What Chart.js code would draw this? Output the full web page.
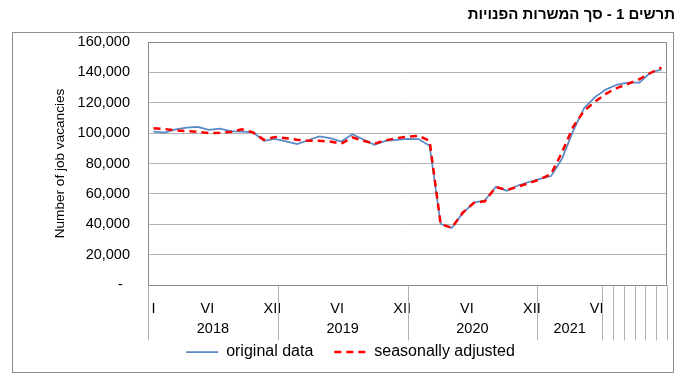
<!DOCTYPE html>
<html>
<head>
<meta charset="utf-8">
<title>Job vacancies</title>
<script src="https://cdn.jsdelivr.net/npm/chart.js@4.4.0/dist/chart.umd.min.js"></script>
<style>
    html, body { margin: 0; padding: 0; background: #fff; }
    #wrap { position: relative; width: 684px; height: 384px; }
    #chart { position: absolute; left: 0; top: 0; }
    #title {
        position: absolute; right: 9px; top: 5px;
        font: bold 15px Arial, "Liberation Sans", sans-serif;
        direction: rtl; color: #000; white-space: nowrap;
    }
</style>
</head>
<body>
<div id="wrap">
    <canvas id="chart" width="684" height="384"></canvas>
    <div id="title">תרשים 1 - סך המשרות הפנויות</div>
</div>
<script>
// Category axis as printed: one slot per month, Jan 2018 - Dec 2021
const monthLabels = [
    'I', '', '', '', '', 'VI', '', '', '', '', '', 'XII',
    '', '', '', '', '', 'VI', '', '', '', '', '', 'XII',
    '', '', '', '', '', 'VI', '', '', '', '', '', 'XII',
    '', '', '', '', '', 'VI', '', '', '', '', '', ''
];
const yearLabels = ['2018', '2019', '2020', '2021', '', '', '', '', '', ''];
const yearSpans = [12, 12, 12, 6, 1, 1, 1, 1, 1, 1];

// Data periods (Jan 2018 - Nov 2021)
const periods = [
    '01/2018', '02/2018', '03/2018', '04/2018', '05/2018', '06/2018',
    '07/2018', '08/2018', '09/2018', '10/2018', '11/2018', '12/2018',
    '01/2019', '02/2019', '03/2019', '04/2019', '05/2019', '06/2019',
    '07/2019', '08/2019', '09/2019', '10/2019', '11/2019', '12/2019',
    '01/2020', '02/2020', '03/2020', '04/2020', '05/2020', '06/2020',
    '07/2020', '08/2020', '09/2020', '10/2020', '11/2020', '12/2020',
    '01/2021', '02/2021', '03/2021', '04/2021', '05/2021', '06/2021',
    '07/2021', '08/2021', '09/2021', '10/2021', '11/2021'
];

const originalData = [
    101000, 100400, 102500, 103600, 104100, 102100, 103000, 101300, 101000, 100600, 94900, 96200,
    94600, 92800, 95300, 97800, 96700, 94500, 99300, 95800, 92300, 94900, 95600, 96200,
    96100, 91700, 40300, 37500, 47300, 54300, 55600, 64700, 62100, 65500, 67800, 69900,
    71700, 83300, 101500, 116600, 123900, 128800, 132000, 133300, 133300, 139900, 141800
];

const seasonallyAdjusted = [
    103200, 102700, 101900, 101300, 100800, 100000, 100300, 100800, 102500, 100500, 95600, 97500,
    96700, 95700, 94900, 94900, 94500, 93000, 97200, 95000, 93000, 95300, 96600, 97600,
    98200, 95000, 40200, 37600, 47600, 54000, 55100, 64500, 62500, 64800, 67000, 69600,
    73000, 87500, 104200, 114800, 120800, 126000, 129800, 132500, 135500, 139600, 143200
];

const yTicks = { min: 0, max: 160000, step: 20000 };

const FONT = 'Arial, "Liberation Sans", sans-serif';
const GRID = '#b3b3b3';
const FRAME = '#8c8c8c';

// Frame, plot border, group separators and year labels
const excelFrame = {
    id: 'excelFrame',
    afterDraw(chart) {
        const ctx = chart.ctx;
        const area = chart.chartArea;
        const xs = chart.scales.x;
        const slot = xs.getPixelForValue(1) - xs.getPixelForValue(0);

        ctx.save();
        ctx.lineWidth = 1;

        // outer chart border
        ctx.strokeStyle = FRAME;
        ctx.strokeRect(12.5, 32.5, 661, 340);

        // plot area border
        const l = Math.round(area.left) + 0.5;
        const r = Math.round(area.right) - 0.5;
        const t = Math.round(area.top) + 0.5;
        const b = Math.round(area.bottom) + 0.5;
        ctx.strokeRect(l, t, r - l, b - t);

        // separators between category groups
        ctx.strokeStyle = GRID;
        let idx = 0;
        const edges = [0];
        yearSpans.forEach(span => {
            idx += span;
            edges.push(idx);
        });
        edges.forEach(e => {
            const x = Math.round(xs.getPixelForValue(e) - slot / 2) + 0.5;
            ctx.beginPath();
            ctx.moveTo(x, b);
            ctx.lineTo(x, b + 55);
            ctx.stroke();
        });

        // year labels centred under their group
        ctx.fillStyle = '#000';
        ctx.font = '14.5px ' + FONT;
        ctx.textAlign = 'center';
        ctx.textBaseline = 'middle';
        idx = 0;
        yearLabels.forEach((label, i) => {
            const first = idx;
            const last = idx + yearSpans[i] - 1;
            idx += yearSpans[i];
            if (!label) return;
            const cx = (xs.getPixelForValue(first) + xs.getPixelForValue(last)) / 2;
            ctx.fillText(label, cx, b + 43);
        });
        ctx.restore();
    }
};

// Legend entries drawn as short lines that keep the dataset's dash
function lineLegendLabels(chart) {
    const items = Chart.defaults.plugins.legend.labels.generateLabels(chart);
    items.forEach(item => {
        const ds = chart.data.datasets[item.datasetIndex];
        item.lineDash = ds.borderDash || [];
        item.lineWidth = ds.borderWidth;
        item.strokeStyle = ds.borderColor;
        item.lineCap = 'butt';
    });
    return items.sort((a, b) => a.datasetIndex - b.datasetIndex);
}

const ctx = document.getElementById('chart');

new Chart(ctx, {
    type: 'line',
    data: {
        labels: periods,
        datasets: [
            {
                label: 'original data',
                data: originalData,
                xAxisID: 'x2',
                borderColor: '#5a8ac6',
                backgroundColor: '#5a8ac6',
                borderWidth: 1.75,
                pointRadius: 0,
                tension: 0,
                order: 1
            },
            {
                label: 'seasonally adjusted',
                data: seasonallyAdjusted,
                xAxisID: 'x2',
                borderColor: '#ff0000',
                backgroundColor: '#ff0000',
                borderWidth: 2.5,
                borderDash: [7, 5],
                pointRadius: 0,
                tension: 0,
                order: 0
            }
        ]
    },
    options: {
        responsive: false,
        animation: false,
        devicePixelRatio: 1,
        layout: {
            padding: { left: 34, right: 17, top: 42, bottom: 14 }
        },
        plugins: {
            tooltip: { enabled: false },
            title: { display: false },
            legend: {
                position: 'bottom',
                labels: {
                    usePointStyle: true,
                    pointStyle: 'line',
                    pointStyleWidth: 32,
                    padding: 21,
                    color: '#000',
                    font: { family: FONT, size: 16 },
                    generateLabels: lineLegendLabels
                }
            }
        },
        scales: {
            x: {
                type: 'category',
                labels: monthLabels,
                offset: true,
                grid: { display: false },
                border: { display: false },
                ticks: {
                    autoSkip: false,
                    maxRotation: 0,
                    minRotation: 0,
                    padding: 7,
                    color: '#000',
                    font: { family: FONT, size: 14.5 }
                },
                afterFit(scale) {
                    scale.height = 38;
                }
            },
            x2: {
                type: 'category',
                labels: periods,
                offset: true,
                display: false
            },
            y: {
                min: yTicks.min,
                max: yTicks.max,
                grid: { color: GRID, drawTicks: false },
                border: { display: false },
                ticks: {
                    stepSize: yTicks.step,
                    padding: 18,
                    color: '#000',
                    font: { family: FONT, size: 14.5 },
                    callback: value => value === 0 ? '-\u2002' : value.toLocaleString('en-US')
                },
                title: {
                    display: true,
                    text: 'Number of job vacancies',
                    color: '#000',
                    font: { family: FONT, size: 13.6 },
                    padding: { top: 18, bottom: 0 }
                },
                afterFit(scale) {
                    scale.width = 114;
                }
            }
        }
    },
    plugins: [excelFrame]
});
</script>
</body>
</html>
